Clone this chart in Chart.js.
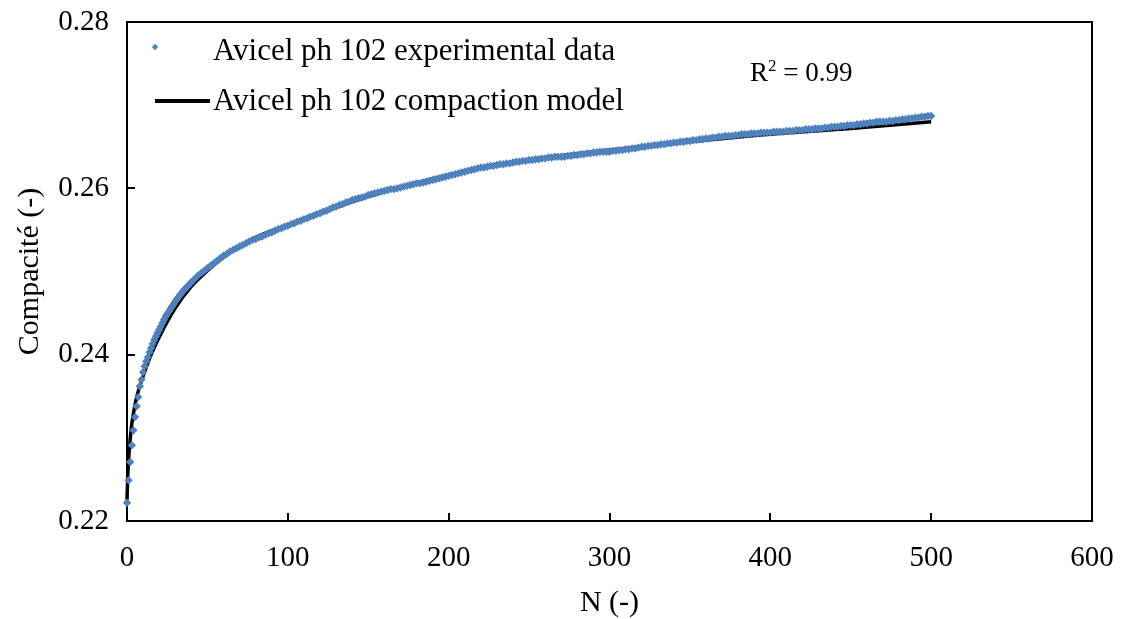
<!DOCTYPE html>
<html>
<head>
<meta charset="utf-8">
<script src="https://cdn.jsdelivr.net/npm/chart.js@4.4.1/dist/chart.umd.min.js"></script>
<style>
  html, body { margin: 0; padding: 0; background: #ffffff; }
  canvas { display: block; }
</style>
</head>
<body>
<canvas id="c" width="1121" height="619"></canvas>
<script>
// ---- Data ----
const expN = [
  0,1,2,3,4,5,6,7,8,9,10,11,12,13,14,15,16,17,18,19,20,
  21,22,23,24,25,26,27,28,29,30,31,32,33,34,35,36,37,38,39,40,
  42,44,46,48,50,52,54,56,58,60,62,64,66,68,70,72,74,76,78,80,
  82,84,86,88,90,92,94,96,98,100,102,104,106,108,110,112,114,116,118,120,
  122,124,126,128,130,132,134,136,138,140,142,144,146,148,150,152,154,156,158,160,
  162,164,166,168,170,172,174,176,178,180,182,184,186,188,190,192,194,196,198,200,
  202,204,206,208,210,212,214,216,218,220,222,224,226,228,230,232,234,236,238,240,
  242,244,246,248,250,252,254,256,258,260,262,264,266,268,270,272,274,276,278,280,
  282,284,286,288,290,292,294,296,298,300,302,304,306,308,310,312,314,316,318,320,
  322,324,326,328,330,332,334,336,338,340,342,344,346,348,350,352,354,356,358,360,
  362,364,366,368,370,372,374,376,378,380,382,384,386,388,390,392,394,396,398,400,
  402,404,406,408,410,412,414,416,418,420,422,424,426,428,430,432,434,436,438,440,
  442,444,446,448,450,452,454,456,458,460,462,464,466,468,470,472,474,476,478,480,
  482,484,486,488,490,492,494,496,498,500
];
const expC = [
  0.2222,0.2249,0.2271,0.2291,0.2309,0.2325,0.2338,0.2349,0.2362,0.2370,0.2379,0.2386,0.2392,0.2397,0.2403,0.2408,0.2413,0.2418,0.2422,0.2426,0.2430,
  0.2434,0.2438,0.2442,0.2446,0.2449,0.2452,0.2455,0.2458,0.2461,0.2464,0.2467,0.2469,0.2472,0.2474,0.2477,0.2479,0.2481,0.2483,0.2485,0.2487,
  0.2491,0.2495,0.2498,0.2501,0.2504,0.2507,0.2510,0.2513,0.2516,0.2519,0.2521,0.2524,0.2526,0.2528,0.2530,0.2532,0.2534,0.2536,0.2538,0.2539,
  0.2541,0.2542,0.2544,0.2546,0.2547,0.2549,0.2551,0.2552,0.2554,0.2555,0.2557,0.2558,0.2560,0.2561,0.2563,0.2564,0.2566,0.2567,0.2569,0.2570,
  0.2572,0.2573,0.2575,0.2577,0.2578,0.2580,0.2581,0.2583,0.2584,0.2586,0.2587,0.2588,0.2589,0.2590,0.2592,0.2593,0.2594,0.2595,0.2596,0.2597,
  0.2598,0.2599,0.2599,0.2600,0.2601,0.2602,0.2603,0.2604,0.2605,0.2606,0.2606,0.2607,0.2608,0.2609,0.2610,0.2611,0.2612,0.2613,0.2614,0.2615,
  0.2616,0.2617,0.2618,0.2619,0.2620,0.2621,0.2622,0.2623,0.2624,0.2625,0.2625,0.2626,0.2627,0.2627,0.2628,0.2629,0.2629,0.2630,0.2630,0.2631,
  0.2632,0.2632,0.2633,0.2633,0.2634,0.2634,0.2635,0.2635,0.2636,0.2636,0.2637,0.2637,0.2638,0.2638,0.2638,0.2638,0.2639,0.2639,0.2640,0.2640,
  0.2641,0.2641,0.2642,0.2642,0.2643,0.2643,0.2644,0.2644,0.2644,0.2644,0.2645,0.2645,0.2646,0.2646,0.2647,0.2647,0.2648,0.2648,0.2649,0.2650,
  0.2650,0.2651,0.2651,0.2652,0.2652,0.2653,0.2653,0.2654,0.2654,0.2655,0.2655,0.2656,0.2656,0.2657,0.2657,0.2658,0.2658,0.2659,0.2659,0.2660,
  0.2660,0.2661,0.2661,0.2662,0.2662,0.2663,0.2663,0.2663,0.2664,0.2664,0.2665,0.2665,0.2665,0.2666,0.2666,0.2666,0.2667,0.2667,0.2667,0.2667,
  0.2668,0.2668,0.2668,0.2668,0.2669,0.2669,0.2669,0.2670,0.2670,0.2670,0.2671,0.2671,0.2671,0.2672,0.2672,0.2672,0.2673,0.2673,0.2674,0.2674,
  0.2674,0.2675,0.2675,0.2676,0.2676,0.2676,0.2677,0.2677,0.2678,0.2678,0.2679,0.2679,0.2680,0.2680,0.2680,0.2680,0.2681,0.2681,0.2682,0.2682,
  0.2683,0.2683,0.2684,0.2684,0.2685,0.2685,0.2686,0.2686,0.2687,0.2687
];
const modelN = [0,0.5,1,2,3,5,7,10,15,20,30,40,50,60,70,80,100,120,150,200,250,300,350,400,450,500];
const modelC = [0.2225,0.2255,0.2274,0.2299,0.2317,0.2340,0.2356,0.2374,0.2400,0.2421,0.2456,0.2482,0.2501,0.2517,0.2530,0.2541,0.2556,0.2570,0.2590,0.2616,0.2634,0.2646,0.2656,0.2665,0.2672,0.2680];

const xTicks = [0,100,200,300,400,500,600];
const yTicks = [0.22,0.24,0.26,0.28];

const seriesNames = ['Avicel ph 102 experimental data', 'Avicel ph 102 compaction model'];
const xTitle = 'N (-)';
const yTitle = 'Compacité (-)';
const r2Value = '0.99';

// ---- Styles ----
const FONT = '"Liberation Serif", "Times New Roman", serif';
const BLUE = '#4F81BD';

const framePlugin = {
  id: 'frame',
  beforeDatasetsDraw(chart) {
    const {ctx, chartArea: a, scales: {x, y}} = chart;
    ctx.save();
    ctx.strokeStyle = '#000';
    ctx.lineWidth = 2;
    ctx.strokeRect(a.left, a.top, a.right - a.left, a.bottom - a.top);
    ctx.beginPath();
    xTicks.forEach(v => {
      const px = Math.round(x.getPixelForValue(v));
      ctx.moveTo(px, a.bottom);
      ctx.lineTo(px, a.bottom - 8);
    });
    yTicks.forEach(v => {
      const py = Math.round(y.getPixelForValue(v));
      ctx.moveTo(a.left, py);
      ctx.lineTo(a.left + 8, py);
    });
    ctx.stroke();
    ctx.restore();
  },
  afterDraw(chart) {
    const {ctx} = chart;
    ctx.save();
    ctx.fillStyle = '#000';
    ctx.textBaseline = 'middle';
    ctx.font = '31px ' + FONT;
    // legend entry 1: diamond marker
    ctx.fillStyle = BLUE;
    ctx.beginPath();
    const mx = 155, my = 47, r = 3.2;
    ctx.moveTo(mx, my - r); ctx.lineTo(mx + r, my); ctx.lineTo(mx, my + r); ctx.lineTo(mx - r, my);
    ctx.closePath(); ctx.fill();
    ctx.fillStyle = '#000';
    ctx.fillText(seriesNames[0], 213, 52);
    // legend entry 2: line
    ctx.strokeStyle = '#000';
    ctx.lineWidth = 4;
    ctx.beginPath(); ctx.moveTo(155, 101); ctx.lineTo(210, 101); ctx.stroke();
    ctx.fillText(seriesNames[1], 213, 102);
    // R^2 annotation
    ctx.textBaseline = 'alphabetic';
    ctx.font = '27px ' + FONT;
    let tx = 750;
    ctx.fillText('R', tx, 81);
    tx += ctx.measureText('R').width;
    ctx.font = '17px ' + FONT;
    ctx.fillText('2', tx, 71);
    tx += ctx.measureText('2').width;
    ctx.font = '27px ' + FONT;
    ctx.fillText(' = ' + r2Value, tx, 81);
    ctx.restore();
  }
};

new Chart(document.getElementById('c'), {
  type: 'scatter',
  data: {
    datasets: [
      {
        label: seriesNames[0],
        data: expN.map((n, i) => ({x: n, y: expC[i]})),
        pointStyle: 'rectRot',
        pointRadius: 4.2,
        pointBackgroundColor: BLUE,
        pointBorderColor: BLUE,
        pointBorderWidth: 0,
        showLine: false,
        clip: false,
        order: 0
      },
      {
        label: seriesNames[1],
        data: modelN.map((n, i) => ({x: n, y: modelC[i]})),
        showLine: true,
        borderColor: '#000',
        borderWidth: 3.5,
        pointRadius: 0,
        cubicInterpolationMode: 'monotone',
        fill: false,
        clip: false,
        order: 1
      }
    ]
  },
  options: {
    responsive: false,
    animation: false,
    devicePixelRatio: 1,
    layout: { padding: { top: 22, right: 29, bottom: 0, left: 0 } },
    plugins: { legend: { display: false }, tooltip: { enabled: false } },
    scales: {
      x: {
        type: 'linear', min: 0, max: 600,
        afterBuildTicks: s => { s.ticks = xTicks.map(v => ({value: v})); },
        afterFit: s => { s.height = 98; s.paddingLeft = 0; s.paddingRight = 0; },
        grid: { display: false, drawTicks: false },
        border: { display: false },
        ticks: { color: '#000', font: { family: FONT, size: 29 }, padding: 20, maxRotation: 0 },
        title: { display: true, text: xTitle, color: '#000', font: { family: FONT, size: 30 }, padding: { top: 0, bottom: -2 } }
      },
      y: {
        type: 'linear', min: 0.22, max: 0.28,
        afterBuildTicks: s => { s.ticks = yTicks.map(v => ({value: v})); },
        afterFit: s => { s.width = 127; s.paddingTop = 0; s.paddingBottom = 0; },
        grid: { display: false, drawTicks: false },
        border: { display: false },
        ticks: { color: '#000', font: { family: FONT, size: 29 }, padding: 18,
                 callback: v => v.toFixed(2) },
        title: { display: true, text: yTitle, color: '#000', font: { family: FONT, size: 30 }, padding: { top: 12, bottom: 0 } }
      }
    }
  },
  plugins: [framePlugin]
});
</script>
</body>
</html>
